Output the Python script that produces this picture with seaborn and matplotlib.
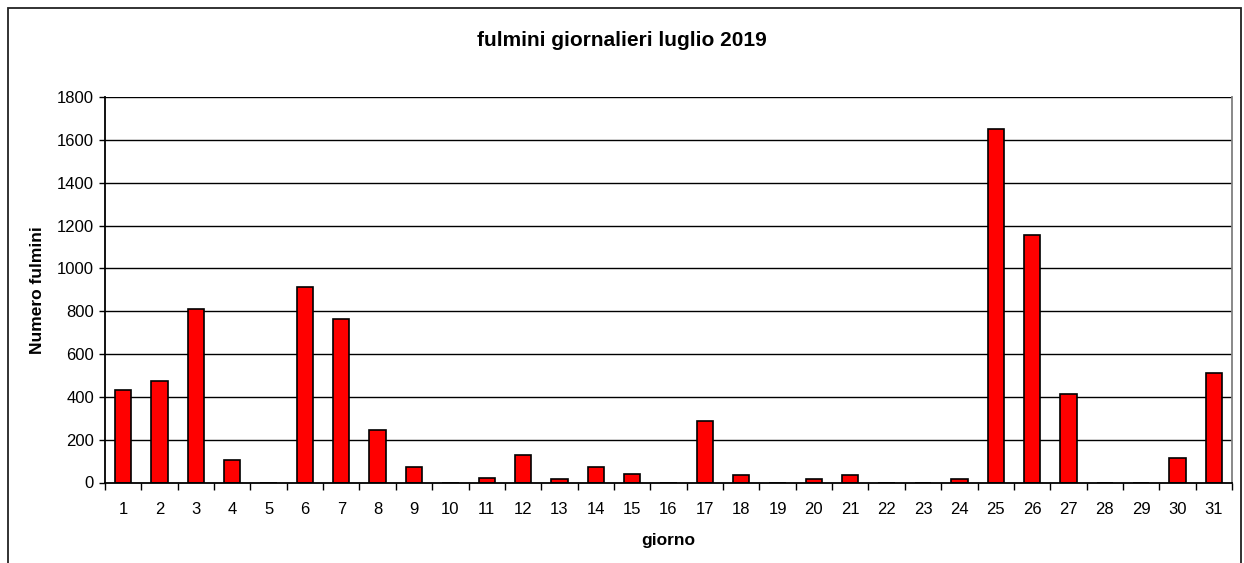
import matplotlib
matplotlib.use("Agg")
import matplotlib.pyplot as plt
from matplotlib.patches import Rectangle
import seaborn as sns
import pandas as pd
import numpy as np

# daily lightning counts, July 2019
giorni = list(range(1, 32))
fulmini = [431, 473, 811, 104, 0, 913, 765, 246, 73, 0,
           23, 129, 17, 73, 42, 0, 288, 36, 0, 17,
           36, 0, 0, 17, 1651, 1156, 411, 0, 0, 115, 509]
y_ticks = [0, 200, 400, 600, 800, 1000, 1200, 1400, 1600, 1800]

sns.set_style("white")
plt.rcParams['font.family'] = ['Liberation Sans', 'DejaVu Sans']
plt.rcParams['text.color'] = 'black'
plt.rcParams['axes.labelcolor'] = 'black'
plt.rcParams['xtick.color'] = 'black'
plt.rcParams['ytick.color'] = 'black'

df = pd.DataFrame({"giorno": giorni, "fulmini": fulmini})

fig = plt.figure(figsize=(12.44, 5.63), dpi=100)
ax = fig.add_axes([105 / 1244, 1 - 482.5 / 563, (1232 - 105) / 1244, (482.5 - 97) / 563])

sns.barplot(data=df, x="giorno", y="fulmini", color="#ff0000", saturation=1,
            edgecolor="black", linewidth=1.2, width=0.45, ax=ax, zorder=3)

ax.set_ylim(0, 1800)
ax.set_xlim(-0.5, len(giorni) - 0.5)
ax.set_yticks(y_ticks)
ax.set_yticklabels([str(v) for v in y_ticks], fontsize=12)
ax.set_xticks(range(len(giorni)))
ax.set_xticklabels([str(g) for g in giorni], fontsize=12)
ax.set_xticks(np.arange(-0.5, len(giorni)), minor=True)
ax.tick_params(axis="x", which="major", length=0, pad=14, bottom=True)
ax.tick_params(axis="x", which="minor", length=5, width=1, color="black",
               direction="out", bottom=True)
ax.tick_params(axis="y", length=4, width=1, color="black", direction="out", left=True, pad=4)

for v in y_ticks[1:]:
    ax.axhline(v, color="black", lw=1, zorder=1)

for s in ["left", "bottom"]:
    ax.spines[s].set_color("black")
    ax.spines[s].set_linewidth(1.3)
    ax.spines[s].set_zorder(4)
ax.spines["top"].set_visible(False)
ax.spines["right"].set_color("#808080")
ax.spines["right"].set_linewidth(1.3)

ax.set_xlabel("giorno", fontsize=12.5, fontweight="bold")
ax.xaxis.set_label_coords(0.5, -0.13)
ax.set_ylabel("Numero fulmini", fontsize=12.5, fontweight="bold")
ax.yaxis.set_label_coords(-0.053, 0.5)
fig.text(0.5, 1 - 41 / 563, "fulmini giornalieri luglio 2019", ha="center", va="center",
         fontsize=15, fontweight="bold")

# outer chart frame (bottom edge is cropped off in the original)
fig.patches.append(Rectangle((8 / 1244, -0.1), (1241 - 8) / 1244, 1.1 - 8 / 563,
                             transform=fig.transFigure, fill=False,
                             edgecolor="#222222", lw=1.3))

fig.savefig("out.png", dpi=100)
